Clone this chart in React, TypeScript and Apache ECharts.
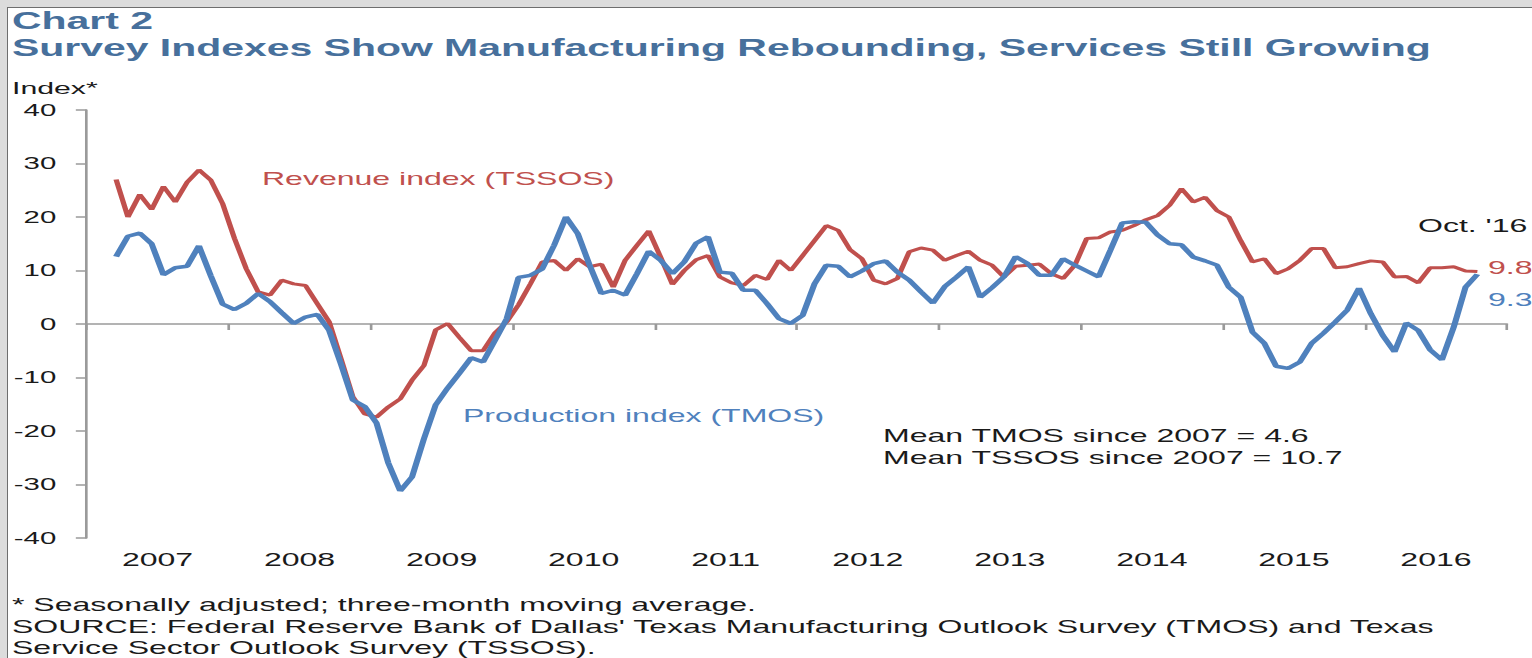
import React, { useEffect, useRef } from "react";
import * as echarts from "echarts";

// ---------------- data ----------------
const years = ["2007", "2008", "2009", "2010", "2011", "2012", "2013", "2014", "2015", "2016"];
const monthNames = ["Jan", "Feb", "Mar", "Apr", "May", "Jun", "Jul", "Aug", "Sep", "Oct", "Nov", "Dec"];
const leadingEmptyMonths = 2; // series start in March 2007

// Revenue index (TSSOS), Mar 2007 .. Oct 2016
const revenueIndex = [
  27.0, 20.0, 24.2, 21.4, 25.7, 22.8, 26.5, 28.8, 26.9, 22.5,
  16.0, 10.3, 6.0, 5.4, 8.2, 7.5, 7.2, 3.8, 0.4, -6.5, -13.6, -16.8,
  -17.4, -15.5, -14.0, -10.5, -7.8, -1.1, 0.1, -2.5, -5.0, -5.0, -1.7, 0.4,
  3.6, 7.5, 11.6, 11.9, 10.0, 12.2, 10.7, 11.2, 6.9, 11.9, 14.7, 17.4,
  12.5, 7.4, 10.0, 12.0, 12.8, 8.8, 7.7, 7.2, 9.1, 8.3, 11.9, 10.0,
  12.8, 15.6, 18.4, 17.5, 13.9, 12.2, 8.2, 7.5, 8.5, 13.5, 14.2, 13.8,
  11.9, 12.8, 13.6, 11.9, 11.0, 8.8, 10.8, 11.0, 11.2, 9.4, 8.5, 11.0,
  16.0, 16.1, 17.2, 17.5, 18.4, 19.5, 20.3, 22.2, 25.3, 22.8, 23.7, 21.2,
  20.0, 15.6, 11.6, 12.2, 9.4, 10.3, 11.9, 14.1, 14.1, 10.5, 10.7, 11.3,
  11.8, 11.6, 8.8, 8.9, 7.7, 10.5, 10.5, 10.7, 9.9, 9.8,
];

// Production index (TMOS), Mar 2007 .. Oct 2016
const productionIndex = [
  12.6, 16.4, 17.0, 15.0, 9.2, 10.5, 10.8, 14.6, 9.0, 3.7,
  2.7, 3.9, 5.7, 4.2, 2.1, 0.1, 1.3, 1.8, -1.2, -7.5, -14.2, -15.4,
  -18.5, -26.0, -31.2, -28.6, -21.5, -15.1, -12.0, -9.2, -6.3, -7.1, -3.1, 1.0,
  8.7, 9.1, 10.3, 14.7, 20.0, 16.9, 11.0, 5.7, 6.3, 5.4, 9.4, 13.6,
  11.9, 9.4, 11.6, 15.1, 16.3, 9.7, 9.5, 6.3, 6.3, 3.8, 1.0, 0.1,
  1.6, 7.5, 11.0, 10.8, 8.8, 9.9, 11.3, 11.8, 9.7, 8.2, 6.0, 3.9,
  7.0, 8.8, 10.7, 5.0, 6.8, 8.8, 12.6, 11.3, 9.1, 9.1, 12.2, 11.0,
  9.9, 8.8, 13.8, 18.9, 19.1, 19.0, 16.6, 15.0, 14.8, 12.5, 11.8, 11.0,
  6.9, 5.0, -1.5, -3.6, -7.9, -8.3, -7.1, -3.6, -1.7, 0.4, 2.6, 6.7,
  1.9, -2.1, -5.2, 0.2, -1.2, -4.8, -6.7, -0.6, 6.9, 9.3,
];

const yMin = -40;
const yMax = 40;
const yInterval = 10;

const titleLine1 = "Chart 2";
const titleLine2 = "Survey Indexes Show Manufacturing Rebounding, Services Still Growing";
const yAxisTitle = "Index*";
const revenueLabel = "Revenue index (TSSOS)";
const productionLabel = "Production index (TMOS)";
const meanLines = ["Mean TMOS since 2007 = 4.6", "Mean TSSOS since 2007 = 10.7"];
const latestLabel = "Oct. '16";
const footnotes = [
  "* Seasonally adjusted; three-month moving average.",
  "SOURCE: Federal Reserve Bank of Dallas' Texas Manufacturing Outlook Survey (TMOS) and Texas",
  "Service Sector Outlook Survey (TSSOS).",
];

// ---------------- layout ----------------
const STRETCH = 1.78; // the reference is horizontally stretched
const FULL_W = 1524;
const FULL_H = 650;
const W = FULL_W / STRETCH;
const FONT = "'Liberation Sans', Arial, Helvetica, sans-serif";
const RED = "#c0504d";
const BLUE = "#4f81bd";
const TITLE_BLUE = "#47709c";
const TEXT = "#1a1a1a";
const AXIS = "#9a9a9a";

const px = (xRef: number) => (xRef - 8) / STRETCH;
const py = (yRef: number) => yRef - 8;

export default function App() {
  const ref = useRef<HTMLDivElement>(null);

  useEffect(() => {
    if (!ref.current) return;
    const chart = echarts.init(ref.current, undefined, { renderer: "svg" });

    const months: string[] = [];
    years.forEach((y) => monthNames.forEach((m) => months.push(`${m} ${y}`)));
    const pad = new Array(leadingEmptyMonths).fill(null);

    const text = (
      x: number,
      y: number,
      t: string,
      size: number,
      color: string,
      weight: string = "normal"
    ) => ({
      type: "text",
      x,
      y,
      silent: true,
      style: {
        text: t,
        fill: color,
        fontSize: size,
        fontWeight: weight,
        fontFamily: FONT,
        align: "left",
        verticalAlign: "middle",
      },
    });

    chart.setOption({
      animation: false,
      backgroundColor: "#ffffff",
      textStyle: { fontFamily: FONT },
      grid: {
        left: px(86.5),
        right: W - px(1507.3),
        top: py(110),
        bottom: FULL_H - py(538),
        containLabel: false,
        outerBoundsMode: "none",
      },
      xAxis: [
        {
          type: "category",
          data: months,
          boundaryGap: true,
          position: "bottom",
          axisLine: { show: true, onZero: true, lineStyle: { color: AXIS, width: 1.5 } },
          axisTick: { show: true, interval: 11, length: 6, lineStyle: { color: AXIS, width: 1.5 } },
          axisLabel: { show: false },
          splitLine: { show: false },
        },
        {
          type: "category",
          data: years,
          boundaryGap: true,
          position: "bottom",
          axisLine: { show: false, onZero: false },
          axisTick: { show: false },
          axisLabel: {
            show: true,
            interval: 0,
            fontSize: 18,
            color: TEXT,
            fontFamily: FONT,
            margin: 13,
          },
          splitLine: { show: false },
        },
      ],
      yAxis: {
        type: "value",
        min: yMin,
        max: yMax,
        interval: yInterval,
        axisLine: { show: true, lineStyle: { color: AXIS, width: 1.5 } },
        axisTick: { show: true, length: 6, inside: false, lineStyle: { color: AXIS, width: 1.5 } },
        axisLabel: { fontSize: 16.5, color: TEXT, fontFamily: FONT, margin: 17 },
        splitLine: { show: false },
      },
      series: [
        {
          name: revenueLabel,
          type: "line",
          xAxisIndex: 0,
          data: [...pad, ...revenueIndex],
          showSymbol: false,
          symbol: "none",
          lineStyle: { color: RED, width: 3 },
          itemStyle: { color: RED },
          endLabel: {
            show: true,
            formatter: (p: any) => Number(p.value).toFixed(1),
            color: RED,
            fontSize: 18,
            fontFamily: FONT,
            distance: 6,
            offset: [0, -4],
          },
          z: 2,
        },
        {
          name: productionLabel,
          type: "line",
          xAxisIndex: 0,
          data: [...pad, ...productionIndex],
          showSymbol: false,
          symbol: "none",
          lineStyle: { color: BLUE, width: 3.5 },
          itemStyle: { color: BLUE },
          endLabel: {
            show: true,
            formatter: (p: any) => Number(p.value).toFixed(1),
            color: BLUE,
            fontSize: 18,
            fontFamily: FONT,
            distance: 6,
            offset: [0, 26],
          },
          z: 3,
        },
      ],
      graphic: [
        text(px(12), py(21), titleLine1, 23, TITLE_BLUE, "bold"),
        text(px(12), py(48), titleLine2, 23, TITLE_BLUE, "bold"),
        text(px(12), py(88), yAxisTitle, 17, TEXT),
        text(px(262), py(179), revenueLabel, 18, RED),
        text(px(463), py(416), productionLabel, 18, BLUE),
        text(px(883), py(436), meanLines[0], 18, TEXT),
        text(px(883), py(458), meanLines[1], 18, TEXT),
        text(px(1418), py(226), latestLabel, 18, TEXT),
        text(px(12), py(605), footnotes[0], 18, TEXT),
        text(px(12), py(627), footnotes[1], 18, TEXT),
        text(px(12), py(648), footnotes[2], 18, TEXT),
      ],
    });

    return () => chart.dispose();
  }, []);

  return (
    <div
      style={{
        position: "fixed",
        left: 0,
        top: 0,
        width: 1532,
        height: 658,
        overflow: "hidden",
        background: "#dcdcdc",
      }}
    >
      <div
        style={{
          position: "absolute",
          left: 7,
          top: 7,
          width: FULL_W + 1,
          height: FULL_H + 1,
          background: "#ffffff",
          borderLeft: "1.5px solid #6e6e6e",
          borderTop: "1.5px solid #6e6e6e",
          overflow: "hidden",
        }}
      >
        <div
          ref={ref}
          style={{
            width: W,
            height: FULL_H,
            transform: `scaleX(${STRETCH})`,
            transformOrigin: "0 0",
          }}
        />
      </div>
    </div>
  );
}
